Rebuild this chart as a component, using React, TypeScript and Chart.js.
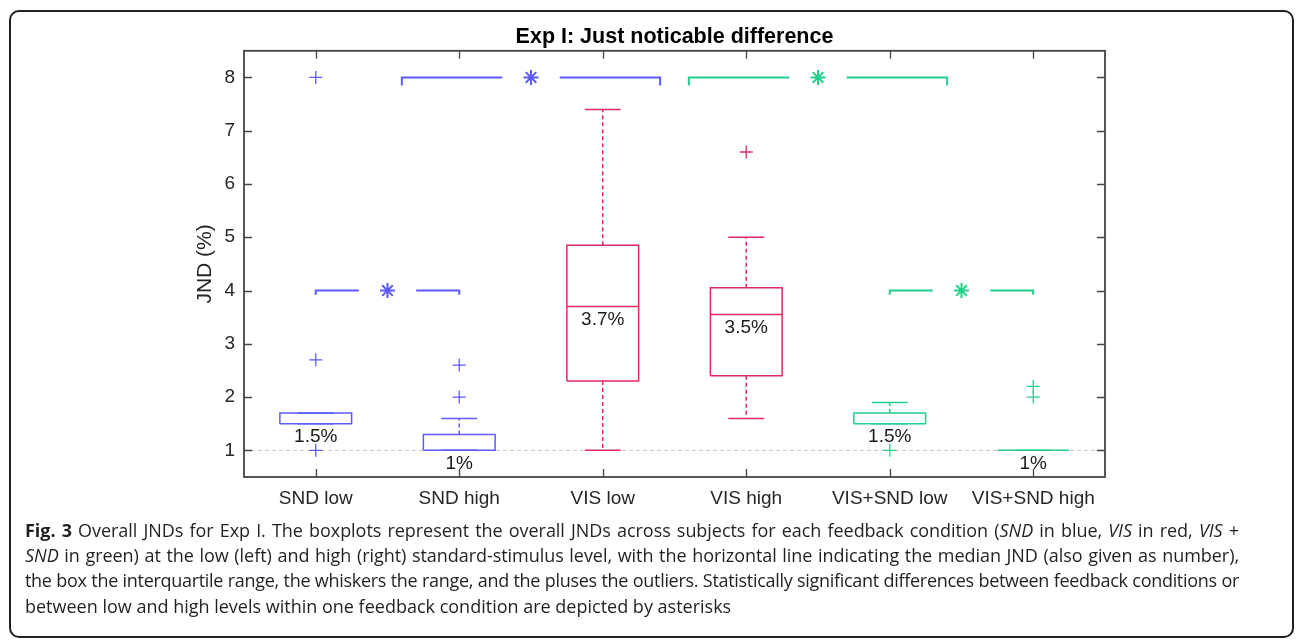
import React, { useEffect, useRef } from "react";
import { Chart, registerables } from "chart.js";

Chart.register(...registerables);

// ---------- data ----------
const categories = ["SND low", "SND high", "VIS low", "VIS high", "VIS+SND low", "VIS+SND high"];
const boxColors = ["#5b5bff", "#5b5bff", "#e3285f", "#e3285f", "#22d08a", "#22d08a"];
const q1 = [1.5, 1.0, 2.3, 2.4, 1.5, 1.0];
const median = [1.5, 1.0, 3.7, 3.55, 1.5, 1.0];
const q3 = [1.7, 1.3, 4.85, 4.05, 1.7, 1.0];
const whiskerLow = [1.5, 1.0, 1.0, 1.6, 1.5, 1.0];
const whiskerHigh = [1.7, 1.6, 7.4, 5.0, 1.9, 1.0];
const outliers = [[8, 2.7, 1.0], [2.6, 2.0], [], [6.6], [1.0], [2.2, 2.0]];
const medianLabels = ["1.5%", "1%", "3.7%", "3.5%", "1.5%", "1%"];
const yTicks = [1, 2, 3, 4, 5, 6, 7, 8];

const bracketFrom = [0.6, 2.6, 0, 4];
const bracketTo = [2.4, 4.4, 1, 5];
const bracketY = [8, 8, 4, 4];
const bracketDrop = [0.15, 0.15, 0.08, 0.08];
const bracketColors = ["#5b5bff", "#22d08a", "#5b5bff", "#22d08a"];
const referenceY = 1;

const TITLE = "Exp I: Just noticable difference";
const Y_TITLE = "JND (%)";

// ---------- style constants ----------
const BOX_HALF = 0.25;
const CAP_HALF = 0.125;
const STAR_GAP = 0.2;
const FONT = '"Liberation Sans", Arial, Helvetica, sans-serif';
const AXIS_COLOR = "#444444";
const TEXT_COLOR = "#262626";

function buildDatasets() {
  const ds: any[] = [];
  const gapPt = (x: number) => ({ x, y: null as any });

  // reference line
  ds.push({
    data: [{ x: -0.5, y: referenceY }, { x: 5.5, y: referenceY }],
    showLine: true,
    borderColor: "#c4c4c4",
    borderWidth: 1,
    borderDash: [4, 3],
    pointRadius: 0,
    order: 10,
  });

  categories.forEach((_, i) => {
    const c = boxColors[i];
    // box + median
    ds.push({
      data: [
        { x: i - BOX_HALF, y: q1[i] },
        { x: i + BOX_HALF, y: q1[i] },
        { x: i + BOX_HALF, y: q3[i] },
        { x: i - BOX_HALF, y: q3[i] },
        { x: i - BOX_HALF, y: q1[i] },
        gapPt(i),
        { x: i - BOX_HALF, y: median[i] },
        { x: i + BOX_HALF, y: median[i] },
      ],
      showLine: true,
      spanGaps: false,
      borderColor: c,
      borderWidth: 1.5,
      pointRadius: 0,
      order: 2,
    });
    // whiskers (dashed)
    ds.push({
      data: [
        { x: i, y: q3[i] },
        { x: i, y: whiskerHigh[i] },
        gapPt(i),
        { x: i, y: q1[i] },
        { x: i, y: whiskerLow[i] },
      ],
      showLine: true,
      spanGaps: false,
      borderColor: c,
      borderWidth: 1.5,
      borderDash: [4, 3],
      pointRadius: 0,
      order: 3,
    });
    // caps
    ds.push({
      data: [
        { x: i - CAP_HALF, y: whiskerHigh[i] },
        { x: i + CAP_HALF, y: whiskerHigh[i] },
        gapPt(i),
        { x: i - CAP_HALF, y: whiskerLow[i] },
        { x: i + CAP_HALF, y: whiskerLow[i] },
      ],
      showLine: true,
      spanGaps: false,
      borderColor: c,
      borderWidth: 1.5,
      pointRadius: 0,
      order: 2,
    });
    // outliers
    ds.push({
      data: outliers[i].map((v) => ({ x: i, y: v })),
      showLine: false,
      pointStyle: "cross",
      pointRadius: 6.5,
      borderColor: c,
      backgroundColor: c,
      pointBorderWidth: 1.3,
      order: 1,
    });
  });

  // significance brackets
  bracketFrom.forEach((from, k) => {
    const to = bracketTo[k];
    const y = bracketY[k];
    const mid = (from + to) / 2;
    const c = bracketColors[k];
    ds.push({
      data: [
        { x: from, y: y - bracketDrop[k] },
        { x: from, y },
        { x: mid - STAR_GAP, y },
        gapPt(mid),
        { x: mid + STAR_GAP, y },
        { x: to, y },
        { x: to, y: y - bracketDrop[k] },
      ],
      showLine: true,
      spanGaps: false,
      borderColor: c,
      borderWidth: 2,
      pointRadius: 0,
      order: 1,
    });
    ds.push({
      data: [{ x: mid, y }],
      showLine: false,
      pointStyle: "star",
      pointRadius: 7.5,
      pointBorderWidth: 2,
      borderColor: c,
      backgroundColor: c,
      order: 1,
    });
  });
  return ds;
}

const framePlugin = {
  id: "matlabFrame",
  afterDatasetsDraw(chart: any) {
    const { ctx, chartArea: a, scales } = chart;
    const xs = scales.x;
    const ys = scales.y;
    ctx.save();
    // median labels
    ctx.font = `19px ${FONT}`;
    ctx.fillStyle = "#1a1a1a";
    ctx.textAlign = "center";
    ctx.textBaseline = "middle";
    categories.forEach((_, i) => {
      ctx.fillText(medianLabels[i], xs.getPixelForValue(i), ys.getPixelForValue(median[i]) + 13);
    });
    // frame
    ctx.strokeStyle = AXIS_COLOR;
    ctx.lineWidth = 1.8;
    ctx.strokeRect(a.left, a.top, a.right - a.left, a.bottom - a.top);
    // inward ticks
    const tl = 8;
    ctx.beginPath();
    xs.ticks.forEach((t: any) => {
      const px = Math.round(xs.getPixelForValue(t.value)) + 0.5;
      ctx.moveTo(px, a.bottom);
      ctx.lineTo(px, a.bottom - tl);
      ctx.moveTo(px, a.top);
      ctx.lineTo(px, a.top + tl);
    });
    ys.ticks.forEach((t: any) => {
      const py = Math.round(ys.getPixelForValue(t.value)) + 0.5;
      ctx.moveTo(a.left, py);
      ctx.lineTo(a.left + tl, py);
      ctx.moveTo(a.right, py);
      ctx.lineTo(a.right - tl, py);
    });
    ctx.lineWidth = 1.3;
    ctx.stroke();
    ctx.restore();
  },
};

const captionLines: React.ReactNode[] = [
  <>
    <b>Fig. 3</b> Overall JNDs for Exp I. The boxplots represent the overall JNDs across subjects for each feedback condition (<i>SND</i> in blue, <i>VIS</i> in red, <i>VIS</i> +
  </>,
  <>
    <i>SND</i> in green) at the low (left) and high (right) standard-stimulus level, with the horizontal line indicating the median JND (also given as number),
  </>,
  <>
    the box the interquartile range, the whiskers the range, and the pluses the outliers. Statistically significant differences between feedback conditions or
  </>,
  <>between low and high levels within one feedback condition are depicted by asterisks</>,
];
const captionSpacing = [-0.05, -0.05, -0.3, 0];

export default function App() {
  const canvasRef = useRef<HTMLCanvasElement | null>(null);

  useEffect(() => {
    if (!canvasRef.current) return;
    const tickFont = { family: FONT, size: 19 };
    const chart = new Chart(canvasRef.current, {
      type: "scatter",
      data: { datasets: buildDatasets() },
      plugins: [framePlugin],
      options: {
        animation: false,
        responsive: false,
        events: [],
        layout: { padding: { left: 189, right: 191, top: 17, bottom: 0 } },
        plugins: {
          legend: { display: false },
          tooltip: { enabled: false },
          title: {
            display: true,
            text: TITLE,
            fullSize: false,
            color: "#000",
            font: { family: FONT, size: 21.5, weight: "bold" },
            padding: { top: 7, bottom: 1 },
          },
        },
        scales: {
          x: {
            type: "linear",
            min: -0.5,
            max: 5.5,
            grid: { display: false, drawTicks: false },
            border: { display: false },
            ticks: {
              font: tickFont,
              color: TEXT_COLOR,
              padding: 10,
              maxRotation: 0,
              autoSkip: false,
              callback: (v: any) => categories[v as number] ?? "",
            },
            afterBuildTicks: (s: any) => {
              s.ticks = categories.map((_, i) => ({ value: i }));
            },
            afterFit: (s: any) => {
              s.height = 43;
            },
          },
          y: {
            type: "linear",
            min: 0.5,
            max: 8.5,
            grid: { display: false, drawTicks: false },
            border: { display: false },
            ticks: {
              font: tickFont,
              color: TEXT_COLOR,
              padding: 9,
              callback: (v: any) => String(v),
            },
            afterBuildTicks: (s: any) => {
              s.ticks = yTicks.map((v) => ({ value: v }));
            },
            afterFit: (s: any) => {
              s.width = 55;
            },
            title: {
              display: true,
              text: Y_TITLE,
              color: TEXT_COLOR,
              font: { family: FONT, size: 21 },
              padding: { top: 4, bottom: 4 },
            },
          },
        },
      } as any,
    });
    return () => chart.destroy();
  }, []);

  return (
    <div
      style={{
        position: "fixed",
        left: 0,
        top: 0,
        width: 1296,
        height: 640,
        background: "#fff",
        overflow: "hidden",
      }}
    >
      <div
        style={{
          position: "absolute",
          left: 9,
          top: 10,
          width: 1285,
          height: 628,
          border: "2px solid #231f20",
          borderRadius: 10,
          boxSizing: "border-box",
        }}
      />
      <canvas
        ref={canvasRef}
        width={1296}
        height={520}
        style={{ position: "absolute", left: 0, top: 0, width: 1296, height: 520 }}
      />
      <div
        style={{
          position: "absolute",
          left: 25,
          top: 518,
          width: 1214,
          fontFamily: '"Open Sans", "Noto Sans", sans-serif',
          fontSize: 18,
          lineHeight: "25.2px",
          color: "#231f20",
        }}
      >
        {captionLines.map((line, i) => (
          <div
            key={i}
            style={{
              textAlign: "justify",
              textAlignLast: i < 3 ? "justify" : "left",
              letterSpacing: captionSpacing[i],
            }}
          >
            {line}
          </div>
        ))}
      </div>
    </div>
  );
}
